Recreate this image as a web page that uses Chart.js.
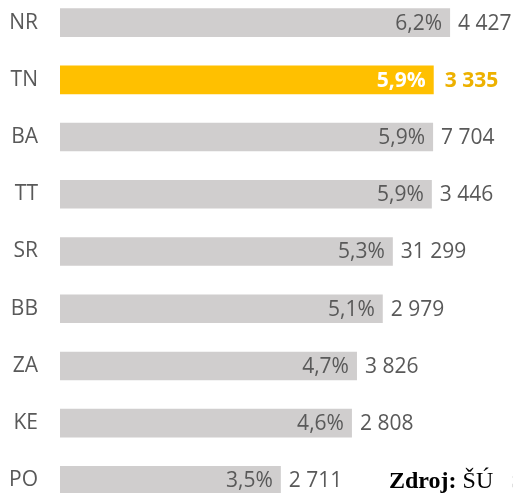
<!DOCTYPE html>
<html>
<head>
<meta charset="utf-8">
<script src="https://cdn.jsdelivr.net/npm/chart.js@4"></script>
<style>
html, body { margin:0; padding:0; background:#fff; overflow:hidden; }
#wrap { position:absolute; left:0; top:-6px; width:513px; height:515px; }
</style>
</head>
<body>
<div id="wrap"><canvas id="chart"></canvas></div>
<script>
//the data
let regions = ["NR", "TN", "BA", "TT", "SR", "BB", "ZA", "KE", "PO"]
let rates = [6.2, 5.94, 5.93, 5.91, 5.29, 5.13, 4.72, 4.64, 3.51]
let counts = ["4 427", "3 335", "7 704", "3 446", "31 299", "2 979", "3 826", "2 808", "2 711"]
let highlight = "TN"

let grey = "#D0CECE"
let gold = "#FFC000"
let textgrey = "#595959"

let barcolors = regions.map(r => r == highlight ? gold : grey)

//this draws the percent inside the bar end and the count after it
let labelplugin = {
    id: "barlabels",
    afterDatasetsDraw(chart) {
        let ctx = chart.ctx
        let meta = chart.getDatasetMeta(0)
        ctx.save()
        ctx.textBaseline = "middle"
        meta.data.forEach((bar, i) => {
            let hot = regions[i] == highlight
            let pct = rates[i].toFixed(1).replace(".", ",") + "%"
            ctx.font = (hot ? "bold " : "") + "21px 'Open Sans'"
            ctx.textAlign = "right"
            ctx.fillStyle = hot ? "#ffffff" : textgrey
            ctx.fillText(pct, bar.x - 8, bar.y + 1)
            ctx.textAlign = "left"
            ctx.fillStyle = hot ? "#EDB100" : textgrey
            ctx.fillText(counts[i], bar.x + (hot ? 11 : 8), bar.y + 1)
        })
        //source note in the corner
        ctx.textAlign = "left"
        ctx.textBaseline = "alphabetic"
        ctx.fillStyle = "#000000"
        ctx.font = "bold 24px 'Liberation Serif'"
        ctx.fillText("Zdroj:", 389, 494)
        let w = ctx.measureText("Zdroj:").width
        ctx.font = "24px 'Liberation Serif'"
        ctx.fillText(" ŠÚ   SR", 389 + w, 494)
        ctx.restore()
    }
}

let chart = new Chart(document.getElementById("chart"), {
    type: "bar",
    data: {
        labels: regions,
        datasets: [{
            data: rates,
            backgroundColor: barcolors,
            barPercentage: 0.5,
            categoryPercentage: 1
        }]
    },
    options: {
        indexAxis: "y",
        responsive: true,
        maintainAspectRatio: false,
        animation: false,
        layout: { padding: 0 },
        plugins: { legend: { display: false }, tooltip: { enabled: false } },
        scales: {
            x: { display: false, min: 0, max: 7.2 },
            y: {
                grid: { display: false },
                border: { display: false },
                ticks: {
                    color: textgrey,
                    font: { family: "'Open Sans'", size: 21 },
                    crossAlign: "near",
                    padding: 14
                },
                afterFit(scale) {
                    scale.width = 60
                    scale.paddingTop = 0
                    scale.paddingBottom = 0
                }
            }
        }
    },
    plugins: [labelplugin]
})
</script>
</body>
</html>
